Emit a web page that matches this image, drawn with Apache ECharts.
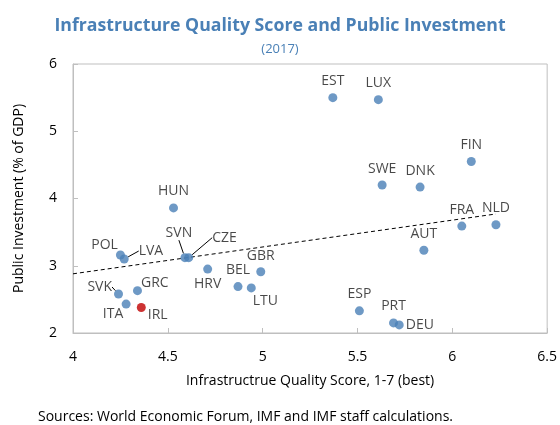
<!DOCTYPE html>
<html>
<head>
<meta charset="utf-8">
<script src="https://cdn.jsdelivr.net/npm/echarts@6/dist/echarts.min.js"></script>
<style>
    html, body { margin: 0; padding: 0; background: #fff; }
    #chart { width: 560px; height: 425px; }
</style>
</head>
<body>
<div id="chart"></div>
<script>
// 数据
const countries = ['HUN', 'POL', 'LVA', 'SVN', 'CZE', 'HRV', 'GBR', 'BEL', 'LTU', 'SVK', 'GRC', 'ITA', 'IRL',
    'EST', 'LUX', 'FIN', 'SWE', 'DNK', 'FRA', 'NLD', 'AUT', 'ESP', 'PRT', 'DEU'];
const qualityScore = [4.53, 4.25, 4.27, 4.59, 4.61, 4.71, 4.99, 4.87, 4.94, 4.24, 4.34, 4.28, 4.36,
    5.37, 5.61, 6.10, 5.63, 5.83, 6.05, 6.23, 5.85, 5.51, 5.69, 5.72];
const publicInvestment = [3.86, 3.16, 3.10, 3.12, 3.12, 2.95, 2.91, 2.69, 2.67, 2.58, 2.63, 2.43, 2.38,
    5.50, 5.47, 4.55, 4.20, 4.17, 3.59, 3.61, 3.23, 2.33, 2.15, 2.12];
const highlighted = ['IRL'];
const trendX = [4, 6.23];
const trendY = [2.88, 3.77];

const font = '"Open Sans", "Noto Sans", sans-serif';
const blue = '#4a80b6';
const red = '#c00000';

// 标签位置（样式）
const labelPlace = {
    POL: { position: 'left', dx: 7, dy: -10 },
    ITA: { position: 'bottom', dx: -13, dy: -7 },
    IRL: { position: 'right', dx: -3, dy: 8 },
    GRC: { position: 'right', dx: -6, dy: -8 },
    LTU: { position: 'bottom', dx: 14, dy: -3 },
    HRV: { position: 'bottom', dx: 0, dy: -2 },
    DEU: { position: 'right', dx: -3, dy: 0 },
    GBR: { position: 'top', dx: 0, dy: 1 },
    // 带引导线
    LVA: { position: 'right', dx: 5, dy: -8, guide: true },
    SVN: { position: 'top', dx: -6, dy: -8, guide: true },
    CZE: { position: 'right', dx: 14, dy: -20, guide: true },
    SVK: { position: 'left', dx: 3, dy: -7, guide: true }
};

const points = countries.map((name, i) => {
    const item = {
        name: name,
        value: [qualityScore[i], publicInvestment[i]],
        itemStyle: { color: highlighted.includes(name) ? red : blue }
    };
    const p = labelPlace[name];
    if (p) {
        item.label = { position: p.position };
        if (p.guide) {
            item.labelLine = { show: true, lineStyle: { color: '#000', width: 1 } };
        }
    }
    return item;
});

const chart = echarts.init(document.getElementById('chart'), null, { renderer: 'canvas' });
const option = {
    animation: false,
    backgroundColor: '#fff',
    textStyle: { fontFamily: font },
    title: [
        {
            text: 'Infrastructure Quality Score and Public Investment',
            left: 'center',
            top: 12,
            textStyle: { fontFamily: font, fontSize: 17.7, fontWeight: 'bold', color: '#4a80b6' }
        },
        {
            text: '(2017)',
            left: 'center',
            top: 38,
            textStyle: { fontFamily: font, fontSize: 13, fontWeight: 'normal', color: '#4a80b6' }
        },
        {
            text: 'Sources: World Economic Forum, IMF and IMF staff calculations.',
            left: 33,
            top: 405,
            textStyle: { fontFamily: font, fontSize: 14, fontWeight: 'normal', color: '#000' }
        }
    ],
    grid: {
        left: 73,
        right: 11,
        top: 64,
        bottom: 92,
        show: true,
        borderColor: '#bfbfbf',
        borderWidth: 1
    },
    xAxis: {
        type: 'value',
        min: 4,
        max: 6.5,
        interval: 0.5,
        name: 'Infrastructrue Quality Score, 1-7 (best)',
        nameLocation: 'middle',
        nameGap: 41,
        nameTextStyle: { fontFamily: font, fontSize: 14, color: '#000' },
        axisLine: { lineStyle: { color: '#bfbfbf' } },
        axisTick: { show: true, inside: true, length: 5, lineStyle: { color: '#bfbfbf' } },
        axisLabel: { fontFamily: font, fontSize: 14, color: '#000', margin: 17 },
        splitLine: { show: false }
    },
    yAxis: {
        type: 'value',
        min: 2,
        max: 6,
        interval: 1,
        name: 'Public Investment (% of GDP)',
        nameLocation: 'middle',
        nameGap: 47,
        nameTextStyle: { fontFamily: font, fontSize: 14, color: '#000' },
        axisLine: { show: true, lineStyle: { color: '#bfbfbf' } },
        axisTick: { show: true, inside: true, length: 5, lineStyle: { color: '#bfbfbf' } },
        axisLabel: { fontFamily: font, fontSize: 14, color: '#000', margin: 16 },
        splitLine: { show: false }
    },
    series: [
        {
            name: 'Trend',
            type: 'line',
            data: trendX.map((x, i) => [x, trendY[i]]),
            symbol: 'none',
            silent: true,
            lineStyle: { color: '#000', width: 1, type: [4, 3] },
            z: 1
        },
        {
            name: 'Countries',
            type: 'scatter',
            symbolSize: 9,
            data: points,
            label: {
                show: true,
                formatter: '{b}',
                position: 'top',
                distance: 5,
                fontFamily: font,
                fontSize: 14,
                color: '#1a1a1a'
            },
            labelLine: { lineStyle: { color: '#000', width: 1 } },
            labelLayout: function (params) {
                const p = labelPlace[countries[params.dataIndex]];
                if (p) {
                    return { dx: p.dx, dy: p.dy };
                }
                return {};
            },
            z: 2
        }
    ]
};
chart.setOption(option);
</script>
</body>
</html>
